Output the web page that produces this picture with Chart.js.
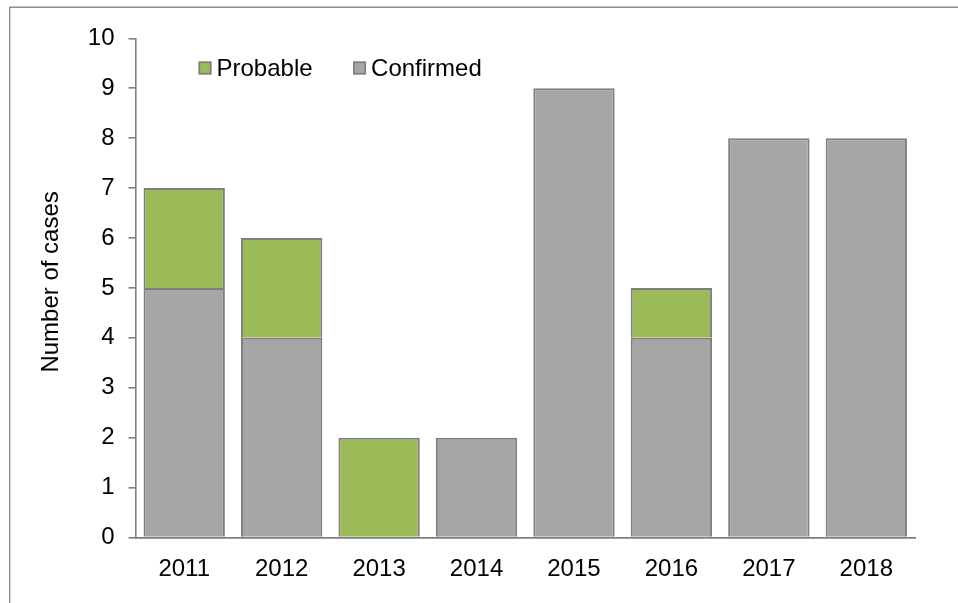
<!DOCTYPE html>
<html><head><meta charset="utf-8">
<script src="https://cdn.jsdelivr.net/npm/chart.js@4/dist/chart.umd.min.js"></script>
<style>html,body{margin:0;padding:0;background:#fff;}canvas{display:block;}</style>
</head><body>
<canvas id="c" width="958" height="603"></canvas>
<script>
const categories = ['2011','2012','2013','2014','2015','2016','2017','2018'];
const confirmed = [5, 4, 0, 2, 9, 4, 8, 8];
const probable  = [2, 2, 2, 0, 0, 1, 0, 0];
const yMin = 0, yMax = 10, yStep = 1;
const seriesNames = ['Confirmed', 'Probable'];
const yTitle = 'Number of cases';

const FONT = "'Liberation Sans', Arial, sans-serif";
const FS = 24;
const EDGE = '#7f7f7f';

const framePlugin = {
  id: 'frame',
  beforeDraw(chart) {
    const ctx = chart.ctx;
    ctx.save();
    ctx.fillStyle = '#fff';
    ctx.fillRect(0, 0, chart.width, chart.height);
    ctx.strokeStyle = '#8c8c8c';
    ctx.lineWidth = 1.4;
    ctx.beginPath();
    ctx.moveTo(chart.width, 7.3);
    ctx.lineTo(9.7, 7.3);
    ctx.lineTo(9.7, chart.height);
    ctx.stroke();
    ctx.restore();
  }
};

const legendPlugin = {
  id: 'insideLegend',
  afterDraw(chart) {
    const ctx = chart.ctx;
    ctx.save();
    ctx.font = FS + 'px ' + FONT;
    ctx.textBaseline = 'middle';
    ctx.textAlign = 'left';
    let x = 198.5;
    const yMid = 68;
    const items = chart.data.datasets.slice().reverse();
    items.forEach(ds => {
      ctx.fillStyle = ds.backgroundColor;
      ctx.fillRect(x, yMid - 6.5, 13, 13);
      ctx.strokeStyle = EDGE;
      ctx.lineWidth = 1.6;
      ctx.strokeRect(x + 0.8, yMid - 5.7, 11.4, 11.4);
      ctx.fillStyle = '#000';
      ctx.fillText(ds.label, x + 18, yMid + 1);
      x += 18 + ctx.measureText(ds.label).width + 40.5;
    });
    const ya = chart.scales.y;
    ctx.translate(51.5, (ya.top + ya.bottom) / 2 - 6);
    ctx.rotate(-Math.PI / 2);
    ctx.textAlign = 'center';
    ctx.fillText(yTitle, 0, 0);
    ctx.restore();
  }
};

new Chart(document.getElementById('c'), {
  type: 'bar',
  data: {
    labels: categories,
    datasets: [
      { label: seriesNames[0], data: confirmed, backgroundColor: '#A6A6A6', borderColor: EDGE, borderWidth: 2, borderSkipped: 'start' },
      { label: seriesNames[1], data: probable, backgroundColor: '#9BBB59', borderColor: EDGE, borderWidth: 2, borderSkipped: 'start' }
    ]
  },
  options: {
    responsive: false,
    animation: false,
    devicePixelRatio: 1,
    layout: { padding: { left: 0, right: 43, top: 38.3, bottom: 0 } },
    datasets: { bar: { categoryPercentage: 1, barPercentage: 0.835 } },
    plugins: { legend: { display: false }, tooltip: { enabled: false } },
    scales: {
      x: {
        stacked: true,
        grid: { display: false, drawTicks: false },
        border: { display: true, color: EDGE, width: 1.8 },
        ticks: { color: '#000', font: { family: FONT, size: FS }, padding: 17, maxRotation: 0 },
        afterFit(s) { s.height = 65.5; }
      },
      y: {
        stacked: true,
        min: yMin, max: yMax,
        ticks: { stepSize: yStep, color: '#000', font: { family: FONT, size: FS }, padding: 14 },
        grid: { drawOnChartArea: false, drawTicks: true, tickLength: 7, color: EDGE, lineWidth: 1.6 },
        border: { display: true, color: EDGE, width: 1.6 },
        title: { display: false },
        afterFit(s) { s.width = 135.5; }
      }
    }
  },
  plugins: [framePlugin, legendPlugin]
});
</script>
</body></html>
